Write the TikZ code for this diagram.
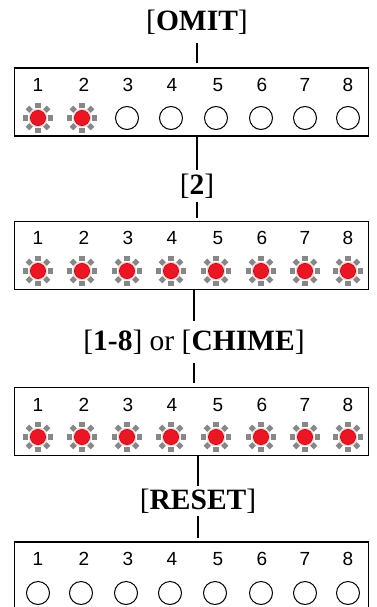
\documentclass[tikz,border=0pt]{standalone}
\usepackage{fontspec}
\setmainfont{Liberation Serif}
\newfontfamily\numfont{Liberation Sans}
\usetikzlibrary{positioning}

\definecolor{ledred}{RGB}{235,22,36}
\definecolor{ledgray}{RGB}{135,135,135}

\tikzset{
  panel/.style={draw=black, line width=1.4pt, minimum width=354pt, minimum height=68pt, inner sep=0pt},
  keylabel/.style={font=\fontsize{29.5}{31}\selectfont, inner sep=0pt},
  digit/.style={font=\numfont\fontsize{19}{20}\selectfont, inner sep=0pt},
  link/.style={line width=2.6pt},
  offled/.style={draw, circle, line width=1pt, minimum size=23pt, inner sep=0pt},
  litled/.pic={
    \foreach \a in {0,45,...,315}
      \fill[ledgray, rotate=\a] (9.8,-2.6) rectangle (15,2.6);
    \fill[ledred!20] (0,0) circle (9.4);
    \filldraw[fill=ledred, draw=ledred!75!black, line width=0.6pt] (0,0) circle (7.6);
  }
}

\begin{document}
\begin{tikzpicture}[x=1pt, y=-1pt]
\useasboundingbox (0,0) rectangle (377,607);

% Key presses
\node[keylabel] (omit) at (197,22) {[\textbf{OMIT}]};
\node[keylabel] (two) at (197,186) {[\textbf{2}]};
\node[keylabel] (chime) at (194,342) {[\textbf{1-8}] or [\textbf{CHIME}]};
\node[keylabel] (reset) at (198,501) {[\textbf{RESET}]};

% Display panels
\node[panel] (p1) at (191.5,102) {};
\node[panel] (p2) at (191.5,255.5) {};
\node[panel] (p3) at (191.5,421.5) {};
\node[panel] (p4) at (191.5,576) {};

% Channel numbers
\foreach \p/\y in {p1/85, p2/238, p3/405, p4/559} {
  \foreach \i/\x in {1/38, 2/84, 3/128, 4/172, 5/218, 6/262, 7/305, 8/348}
    \node[digit] (\p-n\i) at (\x,\y) {\i};
}

% LEDs: first panel, 1 and 2 lit
\foreach \i/\x in {1/38, 2/82}
  \pic at (\x,118) {litled};
\foreach \i/\x in {3/127, 4/171, 5/216, 6/261, 7/305, 8/348}
  \node[offled] (p1-l\i) at (\x,118) {};

% LEDs: all lit
\foreach \y in {271, 437}
  \foreach \x in {38, 82, 127, 171, 216, 261, 305, 348}
    \pic at (\x,\y) {litled};

% LEDs: all off after reset
\foreach \i/\x in {1/38, 2/81, 3/126, 4/170, 5/215, 6/261, 7/305, 8/348}
  \node[offled] (p4-l\i) at (\x,593) {};

% Connectors
\draw[link] ([yshift=-9pt]omit.south) -- ([yshift=4pt]omit.south |- p1.north);
\draw[link] (p1.south -| two.south) -- ([yshift=4pt]two.north);
\draw[link] ([yshift=-4pt]two.south) -- ([yshift=3pt]two.south |- p2.north);
\draw[link] (p2.south -| chime.south) -- ([yshift=9pt]chime.north);
\draw[link] ([yshift=-9pt]chime.south) -- ([yshift=4pt]chime.south |- p3.north);
\draw[link] (p3.south -| reset.south) -- ([yshift=3pt]reset.north);
\draw[link] ([yshift=-3pt]reset.south) -- ([yshift=3pt]reset.south |- p4.north);

\end{tikzpicture}
\end{document}
